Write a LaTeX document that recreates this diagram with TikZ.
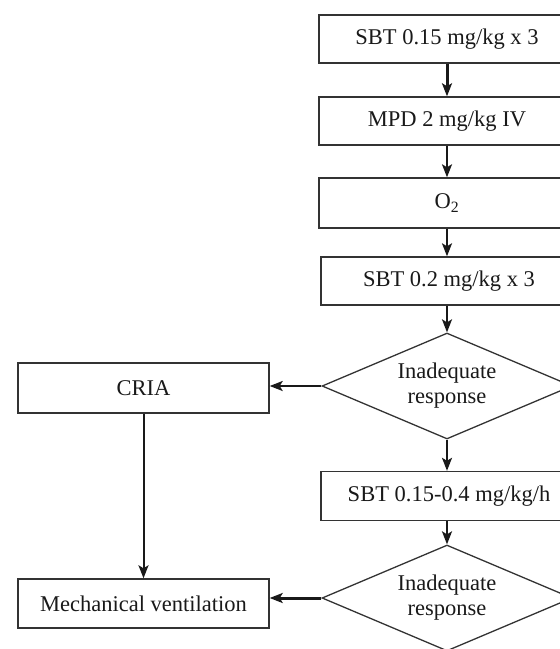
\documentclass[tikz,border=0pt]{standalone}
\usepackage{fontspec}
\setmainfont{Liberation Serif}
\usetikzlibrary{shapes.geometric,arrows.meta}
\begin{document}
\begin{tikzpicture}[x=1pt,y=-1pt,
  txt/.style={font=\fontsize{22.5}{25}\selectfont, text=black!90},
  box/.style={draw=black!80, line width=1.4pt, minimum width=256pt, minimum height=48pt, inner sep=0pt, txt},
  sidebox/.style={box, minimum width=251pt, minimum height=50pt},
  dia/.style={diamond, draw=black!80, line width=1.3pt, minimum width=250pt, minimum height=106pt, inner sep=0pt, aspect=2.36, align=center, txt},
  arr/.style={line width=2pt, draw=black!90, -{Stealth[length=13pt,width=10pt,inset=3pt]}},
  thickarr/.style={arr, line width=3pt},
]
\useasboundingbox (0,0) rectangle (560,649);
\clip (0,0) rectangle (560,649);

\node[box] (b1) at (447,39) {SBT 0.15 mg/kg x 3};
\node[box] (b2) at (447,121) {MPD 2 mg/kg IV};
\node[box, minimum height=50pt] (b3) at (447,203) {O\textsubscript{2}};
\node[box] (b4) at (449,281) {SBT 0.2 mg/kg x 3};
\node[dia] (d1) at (447,386) {Inadequate\\response};
\node[box, minimum height=49pt] (b5) at (449,496) {SBT 0.15-0.4 mg/kg/h};
\node[dia] (d2) at (447,598) {Inadequate\\response};
\node[sidebox] (cria) at (143.5,388) {CRIA};
\node[sidebox, minimum height=49pt] (mv) at (143.5,603.5) {Mechanical ventilation};

\draw[thickarr] (b1.south -| 447,0) -- (b2.north -| 447,0);
\draw[arr] (b2.south -| 447,0) -- (b3.north -| 447,0);
\draw[arr] (b3.south -| 447,0) -- (b4.north -| 447,0);
\draw[arr] (b4.south -| 447,0) -- (d1.north);
\draw[arr] (d1.south) -- (b5.north -| 447,0);
\draw[arr] (b5.south -| 447,0) -- (d2.north);
\draw[arr] (d1.west) -- (d1.west -| cria.east);
\draw[thickarr] (d2.west) -- (d2.west -| mv.east);
\draw[arr] (cria.south) -- (mv.north);
\end{tikzpicture}
\end{document}
